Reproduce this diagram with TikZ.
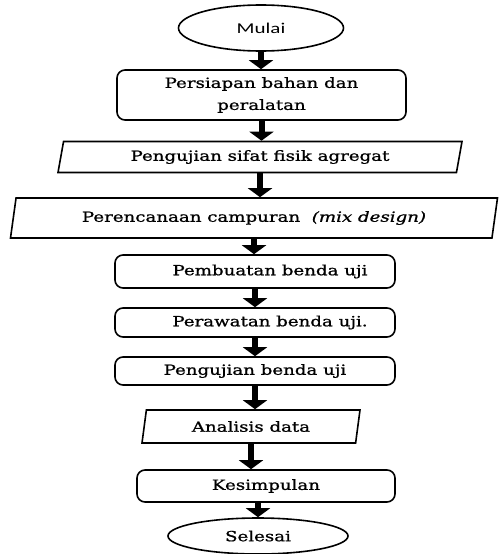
\documentclass[tikz,border=0pt]{standalone}
\usepackage{fontspec}
\setmainfont{DejaVu Serif}[FakeStretch=1.3,FakeBold=1]
\newfontfamily\calfont{Carlito}[FakeStretch=1.4]
\usetikzlibrary{shapes.geometric,arrows.meta}

\begin{document}
\begin{tikzpicture}[x=1pt,y=-1pt,
  every node/.style={font=\fontsize{14}{22}\selectfont, line width=1.6pt, align=center, inner sep=0pt},
  terminal/.style={draw, ellipse},
  process/.style={draw, rounded corners=8pt},
  dataio/.style={draw, trapezium, trapezium left angle=68, trapezium right angle=112, trapezium stretches body},
  flow/.style={line width=6pt, -{Triangle[width=24pt,length=9pt]}}]
  \useasboundingbox (0,0) rectangle (499,554);
  \node[terminal, minimum width=165pt, minimum height=46pt, font=\calfont\fontsize{15}{18}\selectfont] (mulai) at (261,28) {Mulai};
  \node[process, minimum width=289pt, minimum height=50pt] (persiapan) at (261.5,95) {Persiapan bahan dan\\peralatan};
  \node[dataio, minimum width=404pt, minimum height=31pt] (sifat) at (260,157) {Pengujian sifat fisik agregat};
  \node[dataio, minimum width=487pt, minimum height=40pt] (rencana) at (254,218) {Perencanaan campuran \ \textit{(mix design)}};
  \node[process, minimum width=280pt, minimum height=33pt] (buat) at (255,271.5) {\hspace{30pt}Pembuatan benda uji};
  \node[process, minimum width=280pt, minimum height=29pt] (rawat) at (255,322.5) {\hspace{30pt}Perawatan benda uji.};
  \node[process, minimum width=280pt, minimum height=28pt] (uji) at (255,371) {Pengujian benda uji};
  \node[dataio, minimum width=218pt, minimum height=33pt] (analisis) at (251,426.5) {Analisis data};
  \node[process, minimum width=258pt, minimum height=32pt] (simpul) at (266,486) {Kesimpulan};
  \node[terminal, minimum width=180pt, minimum height=36pt] (selesai) at (258,536) {Selesai};
  % panah alur
  \draw[flow] (mulai.south) -- (mulai.south |- persiapan.north);
  \draw[flow] (persiapan.south) -- (persiapan.south |- sifat.north);
  \draw[flow] (sifat.south) -- (sifat.south |- rencana.north);
  \draw[flow] (rencana.south) -- (rencana.south |- buat.north);
  \draw[flow] (buat.south) -- (buat.south |- rawat.north);
  \draw[flow] (rawat.south) -- (rawat.south |- uji.north);
  \draw[flow] (uji.south) -- (uji.south |- analisis.north);
  \draw[flow] (analisis.south) -- (analisis.south |- simpul.north);
  \draw[flow] (simpul.south -| selesai) -- (selesai.north);
\end{tikzpicture}
\end{document}
